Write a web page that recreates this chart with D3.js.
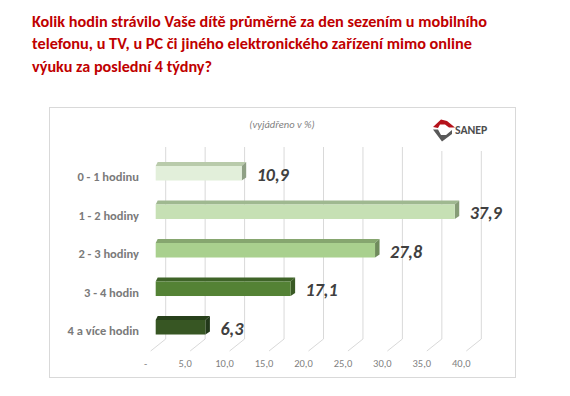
<!DOCTYPE html>
<meta charset="utf-8">
<script src="https://d3js.org/d3.v7.min.js"></script>
<style>
  body { margin: 0; background: #fff; }
  text { font-family: Carlito, Lato, "Open Sans", sans-serif; }
</style>
<body>
<div id="graph"></div>
<script>
  // data
  var categories = ["0 - 1 hodinu", "1 - 2 hodiny", "2 - 3 hodiny", "3 - 4 hodin", "4 a více hodin"];
  var values = [10.9, 37.9, 27.8, 17.1, 6.3];
  var tickValues = [0, 5, 10, 15, 20, 25, 30, 35, 40];
  var tickLabels = ["-", "5,0", "10,0", "15,0", "20,0", "25,0", "30,0", "35,0", "40,0"];
  var titleLines = [
    "Kolik hodin strávilo Vaše dítě průměrně za den sezením u mobilního",
    "telefonu, u TV, u PC či jiného elektronického zařízení mimo online",
    "výuku za poslední 4 týdny?"
  ];
  var subtitle = "(vyjádřeno v %)";

  // bar shades: front, top, side
  var frontColors = ["#e2efda", "#c6e0b4", "#a9d08e", "#548235", "#375623"];
  var topColors = ["#b9cbab", "#9fb890", "#86a66f", "#3f6428", "#27401a"];
  var sideColors = ["#8fa085", "#869c77", "#6f8b5c", "#3a5a25", "#22381a"];

  var W = 570, H = 396;
  var svg = d3.select("#graph").append("svg")
    .attr("width", W)
    .attr("height", H);

  // title
  var titleWidths = [455, 440, 180];
  svg.selectAll(".title")
    .data(titleLines)
    .enter().append("text")
    .attr("class", "title")
    .attr("x", 32)
    .attr("y", function (d, i) { return 26.5 + i * 22.5; })
    .attr("fill", "#c00000")
    .attr("font-size", 16.5)
    .attr("font-weight", "bold")
    .attr("textLength", function (d, i) { return titleWidths[i]; })
    .attr("lengthAdjust", "spacingAndGlyphs")
    .text(function (d) { return d; });

  // chart frame
  svg.append("rect")
    .attr("x", 49.5).attr("y", 107.5)
    .attr("width", 466).attr("height", 270)
    .attr("fill", "#fff")
    .attr("stroke", "#d9d9d9");

  // scales: front plane of the bars, back wall shifted right
  var x = d3.scaleLinear().domain([0, 40]).range([155.7, 471.3]);
  var backShift = 10;
  var y = d3.scaleBand().domain(categories)
    .range([154, 346.5])
    .paddingInner(0.623)
    .paddingOuter(0.3115);

  var gridTop = 147, gridBottom = 339;

  // gridlines on the back wall plus the floor diagonals
  var grid = svg.append("g");
  grid.selectAll(".gv")
    .data(tickValues)
    .enter().append("line")
    .attr("x1", function (d) { return x(d) + backShift; })
    .attr("x2", function (d) { return x(d) + backShift; })
    .attr("y1", gridTop)
    .attr("y2", gridBottom)
    .attr("stroke", "#d9d9d9");
  grid.selectAll(".gf")
    .data(tickValues)
    .enter().append("line")
    .attr("x1", function (d) { return x(d) + backShift; })
    .attr("x2", function (d) { return x(d) + backShift - 15; })
    .attr("y1", gridBottom)
    .attr("y2", gridBottom + 12)
    .attr("stroke", "#d9d9d9");

  // tick labels
  svg.selectAll(".tick")
    .data(tickValues)
    .enter().append("text")
    .attr("x", function (d) { return x(d) - 10; })
    .attr("y", 363)
    .attr("dy", "0.35em")
    .attr("text-anchor", "middle")
    .attr("font-size", 10.5)
    .attr("fill", "#7f7f7f")
    .text(function (d, i) { return tickLabels[i]; });

  // subtitle
  svg.append("text")
    .attr("x", 282).attr("y", 124)
    .attr("dy", "0.35em")
    .attr("text-anchor", "middle")
    .attr("font-size", 10.5)
    .attr("font-style", "italic")
    .attr("fill", "#7f7f7f")
    .text(subtitle);

  // logo
  var logo = svg.append("g");
  logo.append("rect")
    .attr("x", 428).attr("y", 112).attr("width", 78).attr("height", 39)
    .attr("fill", "#fff");
  logo.append("polygon")
    .attr("points", "433,127 441,119.5 447,121 455,127.5 449,127.5 445,124.5 440,124.5 438,128")
    .attr("fill", "#b5121b");
  logo.append("polygon")
    .attr("points", "433,129.5 438,129.5 441,135 446,135 452,130 452,134 442,141.5")
    .attr("fill", "#595959");
  logo.append("text")
    .attr("x", 455).attr("y", 133.5)
    .attr("font-family", "'Liberation Sans', Arial, sans-serif")
    .attr("font-size", 11.8)
    .attr("font-weight", "bold")
    .attr("fill", "#4d4d4d")
    .text("SANEP");

  // bars drawn as front, top and side faces
  var dx = 4.5, dy = -4;
  var bars = svg.selectAll(".bar")
    .data(values)
    .enter().append("g")
    .attr("class", "bar");

  bars.append("polygon")
    .attr("points", function (d, i) {
      var x0 = x(0), x1 = x(d), y0 = y(categories[i]);
      return [[x0, y0], [x0 + 2, y0 + dy], [x1 + dx, y0 + dy], [x1, y0]].join(" ");
    })
    .attr("fill", function (d, i) { return topColors[i]; });

  bars.append("polygon")
    .attr("points", function (d, i) {
      var x1 = x(d), y0 = y(categories[i]), y1 = y0 + y.bandwidth();
      return [[x1, y0], [x1 + dx, y0 + dy], [x1 + dx, y1 + dy + 1], [x1, y1]].join(" ");
    })
    .attr("fill", function (d, i) { return sideColors[i]; });

  bars.append("rect")
    .attr("x", x(0))
    .attr("y", function (d, i) { return y(categories[i]); })
    .attr("width", function (d) { return x(d) - x(0); })
    .attr("height", y.bandwidth())
    .attr("fill", function (d, i) { return frontColors[i]; });

  // category labels
  svg.selectAll(".cat")
    .data(categories)
    .enter().append("text")
    .attr("x", 139)
    .attr("y", function (d) { return y(d) + y.bandwidth() / 2 + 3.5; })
    .attr("dy", "0.35em")
    .attr("text-anchor", "end")
    .attr("font-size", 12.5)
    .attr("font-weight", "bold")
    .attr("fill", "#7a7a7a")
    .text(function (d) { return d; });

  // value labels
  svg.selectAll(".val")
    .data(values)
    .enter().append("text")
    .attr("x", function (d) { return x(d) + 15; })
    .attr("y", function (d, i) { return y(categories[i]) + y.bandwidth() / 2 + 1; })
    .attr("dy", "0.35em")
    .attr("font-size", 18)
    .attr("font-weight", "bold")
    .attr("font-style", "italic")
    .attr("fill", "#404040")
    .text(function (d) { return d3.format(".1f")(d).replace(".", ","); });
</script>
</body>
